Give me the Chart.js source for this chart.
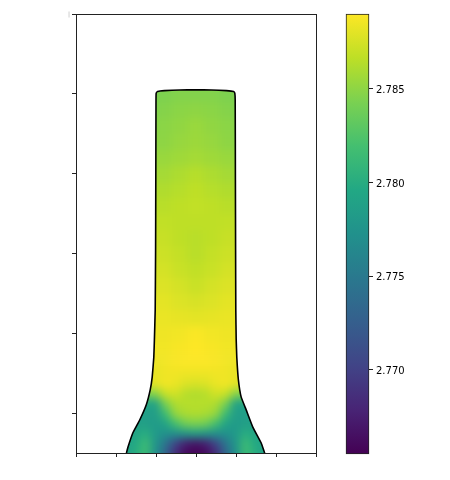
<!DOCTYPE html>
<html>
<head>
<meta charset="utf-8">
<style>
    html, body { margin: 0; background: #fff; }
    canvas { position: absolute; left: 0; top: 0; }
</style>
<script src="https://cdn.jsdelivr.net/npm/chart.js@4"></script>
</head>
<body>
<canvas id="fieldChart" width="450" height="480"></canvas>
<canvas id="colorbarChart" width="450" height="480"></canvas>
<script>
// ===== DATA =====

const xTicks = [0, 1, 2, 3, 4, 5, 6];
const yTicks = [0.5, 1.5, 2.5, 3.5, 4.5, 5.5];
const colorbarTicks = [2.770, 2.775, 2.780, 2.785];
const valueMin = 2.7655;
const valueMax = 2.7890;

// outline of the shape, one x for each y
const outlineX = [1.26, 1.30, 1.42, 1.59, 1.755, 1.855, 1.905, 1.945, 1.96, 1.98, 1.99, 1.995, 2.0, 2.005, 2.04, 2.21, 2.59, 2.99, 3.39, 3.76, 3.94, 3.97, 3.98, 3.985, 3.99, 3.995, 4.005, 4.02, 4.06, 4.13, 4.255, 4.42, 4.63, 4.71, 4.72];
const outlineY = [0, 0.075, 0.25, 0.41, 0.60, 0.79, 0.95, 1.20, 1.42, 1.79, 2.54, 3.42, 4.42, 4.51, 4.53, 4.54, 4.548, 4.55, 4.548, 4.54, 4.53, 4.51, 4.42, 3.42, 2.54, 1.79, 1.42, 1.20, 0.915, 0.70, 0.54, 0.325, 0.125, 0.01, 0];

// lower part of the shape, finer cells
const lowerX = [1.0, 1.25, 1.5, 1.75, 2.0, 2.25, 2.5, 2.75, 3.0, 3.25, 3.5, 3.75, 4.0, 4.25, 4.5, 4.75, 5.0];
const lowerY = [0, 0.125, 0.25, 0.375, 0.5, 0.625, 0.75, 0.875, 1.0, 1.125];
const lowerValues = [
    [2.7785, 2.7785, 2.7801, 2.7815, 2.7773, 2.7731, 2.7684, 2.7661, 2.7656, 2.7661, 2.7684, 2.7731, 2.7773, 2.7815, 2.7801, 2.7785, 2.7785],
    [2.7792, 2.7792, 2.7796, 2.7815, 2.7778, 2.7745, 2.7703, 2.7675, 2.7668, 2.7675, 2.7703, 2.7745, 2.7778, 2.7815, 2.7796, 2.7792, 2.7792],
    [2.7792, 2.7792, 2.7792, 2.7801, 2.7782, 2.7773, 2.7773, 2.7778, 2.7785, 2.7778, 2.7773, 2.7773, 2.7782, 2.7801, 2.7792, 2.7792, 2.7792],
    [2.7787, 2.7787, 2.7787, 2.7787, 2.7782, 2.7792, 2.7820, 2.7839, 2.7843, 2.7839, 2.7820, 2.7792, 2.7782, 2.7787, 2.7787, 2.7787, 2.7787],
    [2.7787, 2.7787, 2.7787, 2.7787, 2.7785, 2.7815, 2.7853, 2.7860, 2.7862, 2.7860, 2.7853, 2.7815, 2.7785, 2.7787, 2.7787, 2.7787, 2.7787],
    [2.7792, 2.7792, 2.7792, 2.7792, 2.7789, 2.7843, 2.7862, 2.7864, 2.7864, 2.7864, 2.7862, 2.7843, 2.7789, 2.7792, 2.7792, 2.7792, 2.7792],
    [2.7843, 2.7843, 2.7843, 2.7843, 2.7848, 2.7871, 2.7874, 2.7864, 2.7862, 2.7864, 2.7874, 2.7871, 2.7848, 2.7843, 2.7843, 2.7843, 2.7843],
    [2.7881, 2.7881, 2.7881, 2.7881, 2.7881, 2.7886, 2.7883, 2.7878, 2.7876, 2.7878, 2.7883, 2.7886, 2.7881, 2.7881, 2.7881, 2.7881, 2.7881],
    [2.7882, 2.7882, 2.7882, 2.7882, 2.7882, 2.7885, 2.7885, 2.7884, 2.7884, 2.7884, 2.7885, 2.7885, 2.7882, 2.7882, 2.7882, 2.7882, 2.7882],
    [2.7884, 2.7884, 2.7884, 2.7884, 2.7884, 2.7886, 2.7888, 2.7889, 2.7889, 2.7889, 2.7888, 2.7886, 2.7884, 2.7884, 2.7884, 2.7884, 2.7884]
];

// body of the shape, larger cells
const upperX = [1.8, 2.2, 2.6, 3.0, 3.4, 3.8, 4.2];
const upperY = [1.3, 1.5, 1.7, 1.9, 2.1, 2.3, 2.5, 2.7, 2.9, 3.1, 3.3, 3.5, 3.7, 3.9, 4.1, 4.3, 4.5, 4.7];
const upperValues = [
    [2.7885, 2.7886, 2.7888, 2.7890, 2.7888, 2.7886, 2.7885],
    [2.7884, 2.7885, 2.7886, 2.7889, 2.7886, 2.7885, 2.7884],
    [2.7882, 2.7883, 2.7882, 2.7881, 2.7882, 2.7883, 2.7882],
    [2.7881, 2.7881, 2.7878, 2.7876, 2.7878, 2.7881, 2.7881],
    [2.7878, 2.7878, 2.7875, 2.7871, 2.7875, 2.7878, 2.7878],
    [2.7876, 2.7875, 2.7871, 2.7868, 2.7871, 2.7875, 2.7876],
    [2.7874, 2.7872, 2.7869, 2.7865, 2.7869, 2.7872, 2.7874],
    [2.7871, 2.7870, 2.7867, 2.7865, 2.7867, 2.7870, 2.7871],
    [2.7869, 2.7868, 2.7867, 2.7867, 2.7867, 2.7868, 2.7869],
    [2.7865, 2.7865, 2.7867, 2.7868, 2.7867, 2.7865, 2.7865],
    [2.7861, 2.7862, 2.7864, 2.7867, 2.7864, 2.7862, 2.7861],
    [2.7857, 2.7858, 2.7861, 2.7864, 2.7861, 2.7858, 2.7857],
    [2.7853, 2.7854, 2.7856, 2.7858, 2.7856, 2.7854, 2.7853],
    [2.7849, 2.7850, 2.7853, 2.7855, 2.7853, 2.7850, 2.7849],
    [2.7847, 2.7849, 2.7851, 2.7854, 2.7851, 2.7849, 2.7847],
    [2.7844, 2.7847, 2.7849, 2.7850, 2.7849, 2.7847, 2.7844],
    [2.7842, 2.7844, 2.7846, 2.7846, 2.7846, 2.7844, 2.7842],
    [2.7841, 2.7843, 2.7844, 2.7844, 2.7844, 2.7843, 2.7841]
];

// viridis, evenly spaced
const viridisStops = ['#440154', '#482475', '#414487', '#355f8d', '#2a788e', '#21918c', '#22a884', '#44bf70', '#7ad151', '#bddf26', '#fde725'];

// ===== HELPERS =====

function hexToRgb(hex) {
    return [1, 3, 5].map(i => parseInt(hex.substr(i, 2), 16));
}

function colorFor(value) {
    const t = Math.min(1, Math.max(0, (value - valueMin) / (valueMax - valueMin))) * (viridisStops.length - 1);
    const i = Math.min(viridisStops.length - 2, Math.floor(t));
    const a = hexToRgb(viridisStops[i]);
    const b = hexToRgb(viridisStops[i + 1]);
    const c = a.map((v, k) => Math.round(v + (b[k] - v) * (t - i)));
    return `rgb(${c[0]},${c[1]},${c[2]})`;
}

function gridPoints(xs, ys, values, radius) {
    const points = [];
    ys.forEach((y, r) => xs.forEach((x, c) => {
        points.push({ x, y, value: values[r][c], radius });
    }));
    return points;
}

function fixedTicks(list) {
    return scale => { scale.ticks = list.map(value => ({ value })); };
}

function blankCanvas(w, h) {
    const c = document.createElement('canvas');
    c.width = w;
    c.height = h;
    return c;
}

// ===== FIELD =====

const heatPoints = gridPoints(upperX, upperY, upperValues, 12).concat(gridPoints(lowerX, lowerY, lowerValues, 7.8));
const outlinePoints = outlineX.map((x, i) => ({ x, y: outlineY[i] }));

// the cells are drawn by the scatter dataset, then blurred and cut to the outline
const smoothField = {
    id: 'smoothField',
    beforeDatasetDraw(chart, args) {
        if (args.index !== 0) return;
        const ctx = chart.ctx;
        const cv = ctx.canvas;
        this.backdrop = blankCanvas(cv.width, cv.height);
        this.backdrop.getContext('2d').drawImage(cv, 0, 0);
        ctx.clearRect(0, 0, cv.width, cv.height);
    },
    afterDatasetDraw(chart, args) {
        if (args.index !== 0) return;
        const ctx = chart.ctx;
        const cv = ctx.canvas;
        const bottom = Math.round(chart.chartArea.bottom);

        const cells = blankCanvas(cv.width, cv.height);
        const cellsCtx = cells.getContext('2d');
        cellsCtx.drawImage(cv, 0, 0, cv.width, bottom, 0, 0, cv.width, bottom);
        cellsCtx.drawImage(cv, 0, bottom - 1, cv.width, 1, 0, bottom, cv.width, 30);

        ctx.clearRect(0, 0, cv.width, cv.height);
        ctx.drawImage(this.backdrop, 0, 0);

        ctx.save();
        ctx.beginPath();
        outlinePoints.forEach((p, i) => {
            const px = chart.scales.x.getPixelForValue(p.x);
            const py = chart.scales.y.getPixelForValue(p.y);
            if (i === 0) ctx.moveTo(px, py);
            else ctx.lineTo(px, py);
        });
        ctx.closePath();
        ctx.clip();
        ctx.filter = 'blur(4px)';
        ctx.drawImage(cells, 0, 0);
        ctx.restore();
    }
};

new Chart(document.getElementById('fieldChart'), {
    type: 'scatter',
    data: {
        datasets: [{
            data: heatPoints,
            order: 2,
            clip: false,
            pointStyle: 'rect',
            pointRadius: c => c.raw.radius,
            pointHoverRadius: c => c.raw.radius,
            pointBorderWidth: 0,
            pointBackgroundColor: c => colorFor(c.raw.value)
        }, {
            data: outlinePoints,
            order: 1,
            showLine: true,
            borderColor: '#000',
            borderWidth: 1.6,
            pointRadius: 0,
            tension: 0.1
        }]
    },
    options: {
        responsive: false,
        animation: false,
        events: [],
        plugins: { legend: { display: false }, tooltip: { enabled: false } },
        layout: { padding: 0 },
        scales: {
            x: {
                type: 'linear',
                position: 'bottom',
                min: 0,
                max: 6,
                afterBuildTicks: fixedTicks(xTicks),
                afterFit(scale) { scale.height = 27; },
                ticks: { display: false },
                grid: { drawOnChartArea: false, tickColor: '#222', tickLength: 4 },
                border: { color: '#222', width: 1 }
            },
            y: {
                type: 'linear',
                position: 'left',
                min: 0,
                max: 5.5,
                afterBuildTicks: fixedTicks(yTicks),
                afterFit(scale) { scale.width = 76; },
                ticks: {
                    autoSkip: false,
                    padding: 2,
                    color: '#aaa',
                    font: { family: 'DejaVu Sans', size: 6 },
                    callback: value => (value === 5.5 ? '|' : '')
                },
                grid: { drawOnChartArea: false, tickColor: '#222', tickLength: 4 },
                border: { color: '#222', width: 1 }
            },
            xTop: {
                type: 'linear',
                position: 'top',
                afterBuildTicks: fixedTicks([]),
                afterFit(scale) { scale.height = 14; },
                ticks: { display: false },
                grid: { display: false },
                border: { color: '#222', width: 1 }
            },
            yRight: {
                type: 'linear',
                position: 'right',
                afterBuildTicks: fixedTicks([]),
                afterFit(scale) { scale.width = 134; },
                ticks: { display: false },
                grid: { display: false },
                border: { color: '#222', width: 1 }
            }
        }
    },
    plugins: [smoothField]
});

// ===== COLORBAR =====

function colorbarFill(context) {
    const area = context.chart.chartArea;
    if (!area) return viridisStops[0];
    const g = context.chart.ctx.createLinearGradient(0, area.bottom, 0, area.top);
    viridisStops.forEach((c, i) => g.addColorStop(i / (viridisStops.length - 1), c));
    return g;
}

new Chart(document.getElementById('colorbarChart'), {
    type: 'bar',
    data: {
        labels: [''],
        datasets: [{
            data: [[valueMin, valueMax]],
            backgroundColor: colorbarFill,
            borderColor: '#222',
            borderWidth: 1,
            borderSkipped: false,
            barPercentage: 1,
            categoryPercentage: 1,
            clip: false
        }]
    },
    options: {
        responsive: false,
        animation: false,
        events: [],
        plugins: { legend: { display: false }, tooltip: { enabled: false } },
        layout: { padding: { left: 346, top: 14, bottom: 26 } },
        scales: {
            x: { display: false },
            y: {
                position: 'right',
                min: valueMin,
                max: valueMax,
                afterBuildTicks: fixedTicks(colorbarTicks),
                afterFit(scale) { scale.width = 81; },
                ticks: {
                    padding: 3,
                    labelOffset: 1.5,
                    color: '#000',
                    font: { family: 'DejaVu Sans', size: 10 },
                    callback: value => value.toFixed(3)
                },
                grid: { drawOnChartArea: false, tickColor: '#222', tickLength: 4 },
                border: { display: false }
            }
        }
    }
});
</script>
</body>
</html>
